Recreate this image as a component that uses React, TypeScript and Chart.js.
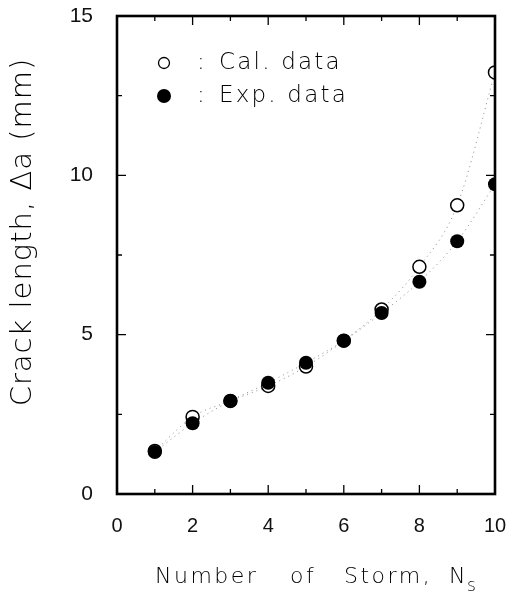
import React, { useEffect, useRef } from "react";
import { Chart, registerables } from "chart.js";
Chart.register(...registerables);

const stormNumbers = [1, 2, 3, 4, 5, 6, 7, 8, 9, 10];
const calData = [1.35, 2.42, 2.92, 3.39, 4.0, 4.81, 5.79, 7.13, 9.06, 13.23];
const expData = [1.32, 2.22, 2.92, 3.49, 4.12, 4.81, 5.68, 6.66, 7.93, 9.72];
const xTicks = [0, 2, 4, 6, 8, 10];
const yTicks = [0, 5, 10, 15];
const legendLabels = ["Cal. data", "Exp. data"];

const FONT = "'Liberation Sans', Arial, sans-serif";
const TITLE_FONT = "'DejaVu Sans', sans-serif";

const framePlugin = {
  id: "frame",
  afterDraw(chart: any) {
    const { ctx, chartArea: a, scales } = chart;
    const xs = scales.x;
    const ys = scales.y;
    ctx.save();
    ctx.strokeStyle = "#000";
    ctx.lineWidth = 1.3;
    for (let v = 1; v < 10; v++) {
      const px = xs.getPixelForValue(v);
      const len = v % 2 === 0 ? 9 : 5;
      ctx.beginPath();
      ctx.moveTo(px, a.bottom);
      ctx.lineTo(px, a.bottom - len);
      ctx.moveTo(px, a.top);
      ctx.lineTo(px, a.top + len);
      ctx.stroke();
    }
    for (let v = 2.5; v < 15; v += 2.5) {
      const py = ys.getPixelForValue(v);
      const len = v % 5 === 0 ? 9 : 5;
      ctx.beginPath();
      ctx.moveTo(a.left, py);
      ctx.lineTo(a.left + len, py);
      ctx.moveTo(a.right, py);
      ctx.lineTo(a.right - len, py);
      ctx.stroke();
    }
    ctx.lineWidth = 2.6;
    ctx.strokeRect(a.left, a.top, a.right - a.left, a.bottom - a.top);

    // legend
    const lx = 164;
    const rows = [63, 96];
    rows.forEach((y, i) => {
      ctx.beginPath();
      ctx.arc(lx, y, i === 0 ? 5.5 : 7, 0, Math.PI * 2);
      if (i === 0) {
        ctx.lineWidth = 1.3;
        ctx.fillStyle = "#fff";
        ctx.fill();
        ctx.stroke();
      } else {
        ctx.fillStyle = "#000";
        ctx.fill();
      }
      ctx.fillStyle = "#000";
      ctx.font = `200 23px ${TITLE_FONT}`;
      (ctx as any).letterSpacing = "2.2px";
      ctx.textBaseline = "middle";
      ctx.textAlign = "left";
      ctx.fillText(":", 197, y);
      ctx.fillText(legendLabels[i], 219, y);
    });

    // y title
    ctx.save();
    ctx.translate(23, 232);
    ctx.rotate(-Math.PI / 2);
    ctx.font = `200 29px ${TITLE_FONT}`;
    (ctx as any).letterSpacing = "1px";
    ctx.textAlign = "center";
    ctx.textBaseline = "middle";
    ctx.fillStyle = "#000";
    ctx.fillText("Crack length, \u0394a (mm)", 0, 0);
    ctx.restore();

    // x title
    ctx.font = `200 22px ${TITLE_FONT}`;
    (ctx as any).letterSpacing = "2.5px";
    ctx.textAlign = "left";
    ctx.textBaseline = "middle";
    ctx.fillStyle = "#000";
    ctx.fillText("Number", 155, 577);
    ctx.fillText("of", 290, 577);
    ctx.fillText("Storm,", 344, 577);
    ctx.fillText("N", 449, 577);
    ctx.font = `200 17px ${TITLE_FONT}`;
    ctx.fillText("s", 467, 587);
    ctx.restore();
  },
};

export default function App() {
  const ref = useRef<HTMLCanvasElement>(null);
  useEffect(() => {
    const chart = new Chart(ref.current!, {
      type: "scatter",
      data: {
        datasets: [
          {
            label: legendLabels[1],
            data: stormNumbers.map((x, i) => ({ x, y: expData[i] })),
            order: 0,
            showLine: true,
            borderColor: "rgba(90,90,90,0.7)",
            borderWidth: 1,
            borderDash: [1, 4],
            tension: 0.4,
            cubicInterpolationMode: "monotone",
            pointRadius: 7,
            pointBackgroundColor: "#000",
            pointBorderColor: "#000",
            pointBorderWidth: 0,
          },
          {
            label: legendLabels[0],
            data: stormNumbers.map((x, i) => ({ x, y: calData[i] })),
            order: 1,
            showLine: true,
            borderColor: "rgba(90,90,90,0.7)",
            borderWidth: 1,
            borderDash: [1, 4],
            tension: 0.4,
            cubicInterpolationMode: "monotone",
            pointRadius: 6.5,
            pointBackgroundColor: "#fff",
            pointBorderColor: "#000",
            pointBorderWidth: 1.5,
          },
        ],
      },
      options: {
        animation: false,
        responsive: false,
        layout: { padding: { left: 0, right: 15, top: 16, bottom: 0 } },
        plugins: { legend: { display: false }, tooltip: { enabled: false } },
        scales: {
          x: {
            type: "linear",
            min: 0,
            max: 10,
            afterBuildTicks: (s: any) => {
              s.ticks = xTicks.map((v) => ({ value: v }));
            },
            afterFit: (s: any) => {
              s.height = 101;
              s.paddingLeft = 0;
              s.paddingRight = 0;
            },
            grid: { display: false },
            border: { display: false },
            ticks: {
              color: "#111",
              font: { family: FONT, size: 20 },
              padding: 12,
              maxRotation: 0,
            },
          },
          y: {
            type: "linear",
            min: 0,
            max: 15,
            afterBuildTicks: (s: any) => {
              s.ticks = yTicks.map((v) => ({ value: v }));
            },
            afterFit: (s: any) => {
              s.width = 117;
              s.paddingTop = 0;
              s.paddingBottom = 0;
            },
            grid: { display: false },
            border: { display: false },
            ticks: {
              color: "#111",
              font: { family: FONT, size: 21 },
              padding: 16,
            },
          },
        },
      },
      plugins: [framePlugin],
    } as any);
    return () => chart.destroy();
  }, []);
  return (
    <div style={{ position: "fixed", left: 0, top: 0, width: 510, height: 595, background: "#fff" }}>
      <canvas ref={ref} width={510} height={595} />
    </div>
  );
}
